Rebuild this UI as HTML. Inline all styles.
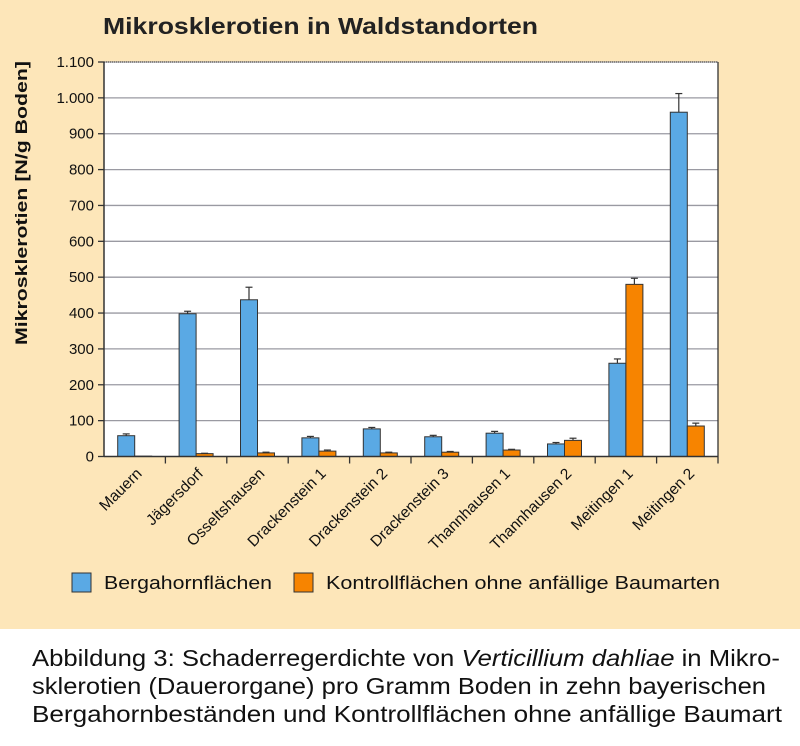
<!DOCTYPE html>
<html><head><meta charset="utf-8"><style>
body{margin:0;width:800px;height:746px;background:#fff;overflow:hidden;font-family:"Liberation Sans",sans-serif}
#top{position:absolute;left:0;top:0;width:800px;height:629px;background:#fde6b9}
</style></head><body>
<div id="top"></div>
<svg id="s" width="800" height="746" style="position:absolute;left:0;top:0" font-family="Liberation Sans, sans-serif"></svg>
<script>
var s=document.getElementById('s'),h='';
var L=104,R=718,T=62,B=456.5,k=(B-T)/1100;
function Y(v){return B-v*k}
h+='<text x="103" y="34" font-size="23" font-weight="bold" fill="#222" textLength="435" lengthAdjust="spacingAndGlyphs">Mikrosklerotien in Waldstandorten</text>';
h+='<rect x="'+L+'" y="'+T+'" width="'+(R-L)+'" height="'+(B-T)+'" fill="#fff"/>';
for(var v=0;v<=1100;v+=100){var y=Y(v);
 if(v>0)h+='<line x1="'+L+'" x2="'+R+'" y1="'+y+'" y2="'+y+'" stroke="#9a9aa2" stroke-width="1.3"/>';
 h+='<line x1="'+(L-6)+'" x2="'+L+'" y1="'+y+'" y2="'+y+'" stroke="#333" stroke-width="1.3"/>';
 var t=v>=1000?(Math.floor(v/1000)+'.'+String(v%1000).padStart(3,'0')):v;
 h+='<text x="'+(L-10)+'" y="'+(y+5)+'" font-size="15" text-anchor="end" fill="#111">'+t+'</text>';}
h+='<line x1="'+L+'" x2="'+L+'" y1="'+T+'" y2="'+B+'" stroke="#333" stroke-width="1.5"/>';
h+='<line x1="'+R+'" x2="'+R+'" y1="'+T+'" y2="'+B+'" stroke="#333" stroke-width="1.3"/>';
h+='<line x1="'+L+'" x2="'+R+'" y1="'+T+'" y2="'+T+'" stroke="#333" stroke-width="1" stroke-dasharray="1,1"/>';
var names=['Mauern','Jägersdorf','Osseltshausen','Drackenstein 1','Drackenstein 2','Drackenstein 3','Thannhausen 1','Thannhausen 2','Meitingen 1','Meitingen 2'];
var b=[58,398,437,52,77,55,65,35,260,960],be=[5,7,35,4,4,4,5,4,12,52];
var o=[1,8,10,15,10,12,18,45,480,85],oe=[0,1,2,3,2,2,2,6,17,8];
var w=(R-L)/10;
for(var i=0;i<10;i++){var c=L+w*(i+0.5);
 [[b,be,c-17,'#5aa9e4'],[o,oe,c,'#f78400']].forEach(function(a){var val=a[0][i],e=a[1][i],x=a[2];
  if(e>0){h+='<line x1="'+(x+8.5)+'" x2="'+(x+8.5)+'" y1="'+Y(val)+'" y2="'+Y(val+e)+'" stroke="#333" stroke-width="1.2"/>';
  h+='<line x1="'+(x+5)+'" x2="'+(x+12)+'" y1="'+Y(val+e)+'" y2="'+Y(val+e)+'" stroke="#333" stroke-width="1.2"/>';}
  h+='<rect x="'+x+'" y="'+Y(val)+'" width="17" height="'+(val*k)+'" fill="'+a[3]+'" stroke="#333" stroke-width="1"/>';});
 h+='<line x1="'+(L+w*(i+1))+'" x2="'+(L+w*(i+1))+'" y1="'+B+'" y2="'+(B+7)+'" stroke="#333" stroke-width="1.3"/>';
 h+='<text transform="translate('+(c+8)+','+(B+18)+') rotate(-45)" font-size="15.5" text-anchor="end" fill="#111">'+names[i]+'</text>';}
h+='<line x1="'+L+'" x2="'+R+'" y1="'+B+'" y2="'+B+'" stroke="#333" stroke-width="1.5"/>';
h+='<text transform="translate(27,203) rotate(-90)" font-size="17" font-weight="bold" text-anchor="middle" fill="#111" textLength="284" lengthAdjust="spacingAndGlyphs">Mikrosklerotien [N/g Boden]</text>';
h+='<rect x="72" y="573" width="19" height="19" fill="#5aa9e4" stroke="#333"/><text x="104" y="589" font-size="18" fill="#111" textLength="168" lengthAdjust="spacingAndGlyphs">Bergahornflächen</text>';
h+='<rect x="294" y="573" width="19" height="19" fill="#f78400" stroke="#333"/><text x="326" y="589" font-size="18" fill="#111" textLength="394" lengthAdjust="spacingAndGlyphs">Kontrollflächen ohne anfällige Baumarten</text>';
h+='<text x="32" y="666" font-size="23" fill="#111" textLength="748" lengthAdjust="spacingAndGlyphs">Abbildung 3: Schaderregerdichte von <tspan font-style="italic">Verticillium dahliae</tspan> in Mikro-</text>';
h+='<text x="32" y="694" font-size="23" fill="#111" textLength="734" lengthAdjust="spacingAndGlyphs">sklerotien (Dauerorgane) pro Gramm Boden in zehn bayerischen</text>';
h+='<text x="32" y="722" font-size="23" fill="#111" textLength="750" lengthAdjust="spacingAndGlyphs">Bergahornbeständen und Kontrollflächen ohne anfällige Baumart</text>';
s.innerHTML=h;
</script>
</body></html>
